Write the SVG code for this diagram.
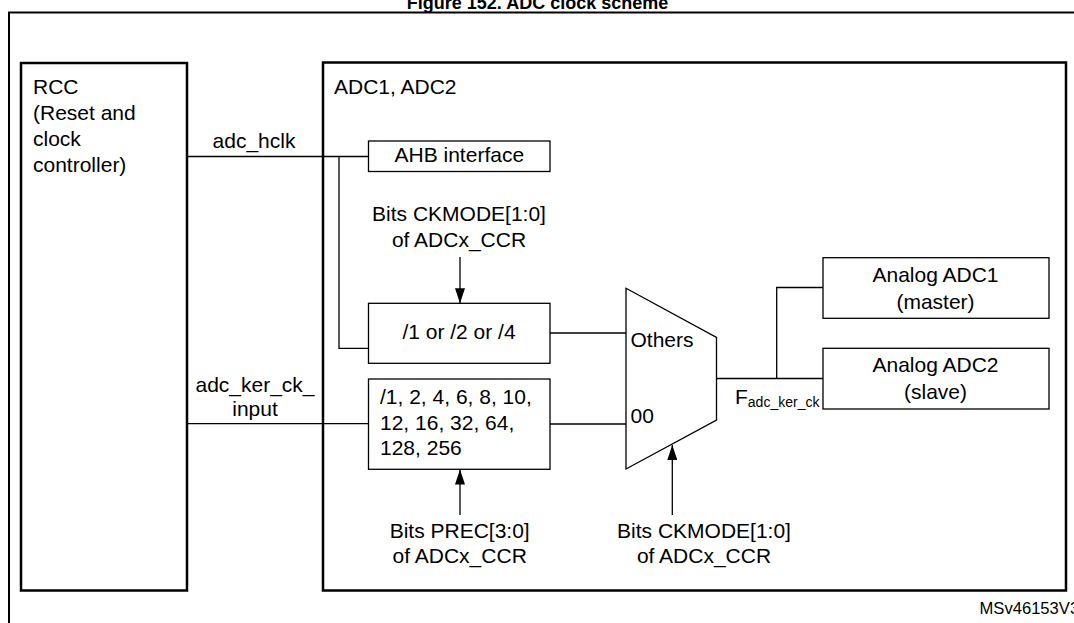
<svg xmlns="http://www.w3.org/2000/svg" width="1074" height="623" viewBox="0 0 1074 623">
<defs>
<style>
text{font-family:"Liberation Sans",Arial,sans-serif;font-size:21px;fill:#000}
.c{text-anchor:middle}
.thick{fill:none;stroke:#000;stroke-width:2.5}
.thin{fill:#fff;stroke:#000;stroke-width:1.3}
.ln{fill:none;stroke:#000;stroke-width:1.3}
</style>
<marker id="ah" viewBox="0 0 15 10" refX="15" refY="5" markerWidth="15" markerHeight="10" markerUnits="userSpaceOnUse" orient="auto">
<path d="M0,0 L15,5 L0,10 Z" fill="#000"/>
</marker>
</defs>
<rect width="1074" height="623" fill="#fff"/>
<text x="537.5" y="9" class="c" style="font-weight:bold;font-size:18px">Figure 152. ADC clock scheme</text>
<path d="M9,623 V12.5 H1074" fill="none" stroke="#000" stroke-width="2"/>
<text x="979.5" y="614" style="font-size:16.6px">MSv46153V3</text>

<g id="connectors">
<path class="ln" d="M187,156.5 H368.5"/>
<path class="ln" d="M339,156.5 V348.3 H368.5"/>
<path class="ln" d="M187,423.7 H368.5"/>
<path class="ln" d="M550,333 H626"/>
<path class="ln" d="M550,424 H626"/>
<path class="ln" d="M716.5,378.5 H823"/>
<path class="ln" d="M776.7,378.5 V287.5 H823"/>
<path class="ln" d="M460,257 V303.3" marker-end="url(#ah)"/>
<path class="ln" d="M460,515 V469.5" marker-end="url(#ah)"/>
<path class="ln" d="M672.3,515 V445" marker-end="url(#ah)"/>
<text x="254" y="148" class="c">adc_hclk</text>
<text x="255" y="392" class="c">adc_ker_ck_</text>
<text x="255" y="416" class="c">input</text>
<text x="735" y="403.5">F<tspan style="font-size:14px" dy="3">adc_ker_ck</tspan></text>
</g>

<g id="rcc">
<rect class="thick" x="21" y="63" width="166" height="527.5"/>
<text x="33" y="93.7">RCC</text>
<text x="33" y="120">(Reset and</text>
<text x="33" y="146">clock</text>
<text x="33" y="172">controller)</text>
</g>

<g id="adc">
<rect class="thick" x="323" y="62.5" width="743" height="528"/>
<text x="334" y="93.7">ADC1, ADC2</text>
</g>

<g id="ahb">
<rect class="thin" x="368.5" y="141" width="181.5" height="30.5"/>
<text x="459.3" y="162" class="c">AHB interface</text>
</g>

<g id="ckmode-top">
<text x="459" y="220.7" class="c">Bits CKMODE[1:0]</text>
<text x="459" y="246.7" class="c">of ADCx_CCR</text>
</g>

<g id="div1">
<rect class="thin" x="368.5" y="303.3" width="181.5" height="60"/>
<text x="459" y="339" class="c">/1 or /2 or /4</text>
</g>

<g id="div2">
<rect class="thin" x="368.5" y="379" width="181.5" height="90.3"/>
<text x="380" y="404">/1, 2, 4, 6, 8, 10,</text>
<text x="380" y="429.5">12, 16, 32, 64,</text>
<text x="380" y="455">128, 256</text>
</g>

<g id="mux">
<polygon class="thin" points="626,288.3 716.5,337.5 716.5,420 626,469"/>
<text x="630.5" y="346.7">Others</text>
<text x="630.5" y="423">00</text>
</g>

<g id="analog1">
<rect class="thin" x="823" y="257.7" width="226" height="60.6"/>
<text x="935.5" y="281.7" class="c">Analog ADC1</text>
<text x="935.5" y="309" class="c">(master)</text>
</g>

<g id="analog2">
<rect class="thin" x="823" y="348.3" width="226" height="60.7"/>
<text x="935.5" y="372.3" class="c">Analog ADC2</text>
<text x="935.5" y="399.3" class="c">(slave)</text>
</g>

<g id="prec-label">
<text x="459.7" y="538.3" class="c">Bits PREC[3:0]</text>
<text x="459.7" y="562.7" class="c">of ADCx_CCR</text>
</g>

<g id="ckmode-bottom">
<text x="704" y="538.3" class="c">Bits CKMODE[1:0]</text>
<text x="704" y="562.7" class="c">of ADCx_CCR</text>
</g>
</svg>
